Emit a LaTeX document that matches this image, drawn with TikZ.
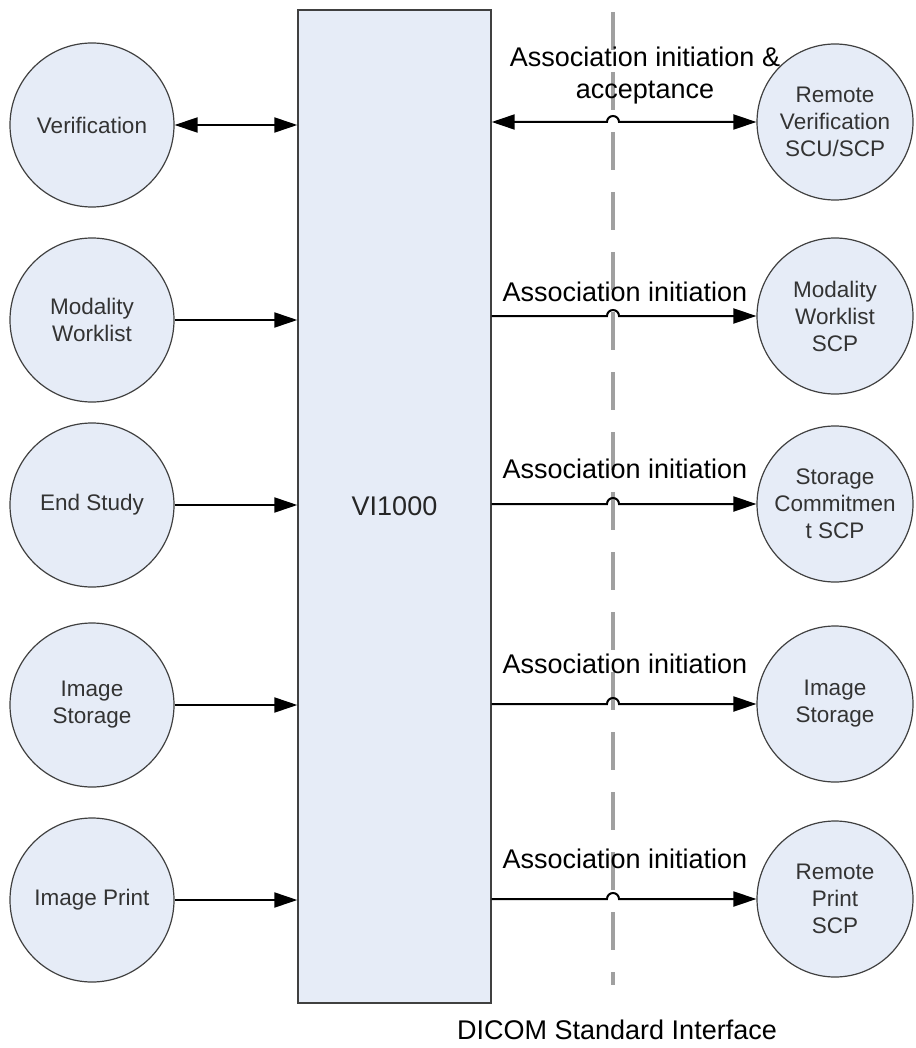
\documentclass[tikz,border=0pt]{standalone}
\usepackage{fontspec}
\setmainfont{Liberation Sans}
\usetikzlibrary{arrows.meta,calc}
\definecolor{bubble}{HTML}{E6ECF7}
\definecolor{rim}{HTML}{404040}
\definecolor{divider}{HTML}{A0A0A0}
\tikzset{
  service/.style={circle, draw=rim, line width=1.2pt, fill=bubble, minimum size=164pt, inner sep=0pt, align=center, font=\fontsize{22.5}{27}\selectfont, text=black!80},
  remote/.style={service, minimum size=156pt},
  link/.style={-{Triangle[length=23pt,width=15pt]}, line width=2pt},
  twoway/.style={{Triangle[length=23pt,width=15pt]}-{Triangle[length=23pt,width=15pt]}, line width=2pt},
  caption/.style={font=\fontsize{27}{32}\selectfont, align=center}
}
\begin{document}
\begin{tikzpicture}[x=1pt, y=-1pt]
    \useasboundingbox (0,0) rectangle (915,1048);
    % interface line
    \coordinate (dicomtop) at (613,12);
    \coordinate (dicombot) at (613,985);
    \draw[divider, line width=4pt, dash pattern=on 38pt off 22pt] (dicomtop) -- (dicombot);
    \node[caption] (dicom) at (617,1030) {DICOM Standard Interface};
    % application
    \node[draw=rim, line width=1.4pt, fill=bubble, minimum width=193pt, minimum height=993pt, font=\fontsize{27}{32}\selectfont, text=black!85] (vi) at (394.5,506.5) {VI1000};
    % local services
    \node[service] (ver) at (92,125) {Verification};
    \node[service] (mwl) at (92,320) {Modality\\Worklist};
    \node[service] (end) at (92,505) {End Study};
    \node[service] (sto) at (92,705) {Image\\Storage};
    \node[service] (prt) at (92,900) {Image Print};
    \draw[twoway] (ver) -- (ver -| vi.west);
    \draw[link] (mwl) -- (mwl -| vi.west);
    \draw[link] (end) -- (end -| vi.west);
    \draw[link] (sto) -- (sto -| vi.west);
    \draw[link] (prt) -- (prt -| vi.west);
    % remote peers
    \node[remote] (rver) at (835,122) {Remote\\Verification\\SCU/SCP};
    \node[remote] (rmwl) at (835,316) {Modality\\Worklist\\SCP};
    \node[remote] (rstc) at (835,504) {Storage\\Commitmen\\t SCP};
    \node[remote] (rsto) at (835,704) {Image\\Storage};
    \node[remote] (rprt) at (835,899) {Remote\\Print\\SCP};
    \draw[twoway] (vi.east |- rver) -- ($(dicomtop |- rver)+(-6,0)$) arc[start angle=180, end angle=0, radius=6pt] -- (rver);
    \draw[link] (vi.east |- rmwl) -- ($(dicomtop |- rmwl)+(-6,0)$) arc[start angle=180, end angle=0, radius=6pt] -- (rmwl);
    \draw[link] (vi.east |- rstc) -- ($(dicomtop |- rstc)+(-6,0)$) arc[start angle=180, end angle=0, radius=6pt] -- (rstc);
    \draw[link] (vi.east |- rsto) -- ($(dicomtop |- rsto)+(-6,0)$) arc[start angle=180, end angle=0, radius=6pt] -- (rsto);
    \draw[link] (vi.east |- rprt) -- ($(dicomtop |- rprt)+(-6,0)$) arc[start angle=180, end angle=0, radius=6pt] -- (rprt);
    % labels
    \node[caption] (lver) at (645,76) {Association initiation \&\\acceptance};
    \node[caption] (lmwl) at (625,292) {Association initiation};
    \node[caption] (lstc) at (625,469) {Association initiation};
    \node[caption] (lsto) at (625,664) {Association initiation};
    \node[caption] (lprt) at (625,859) {Association initiation};
\end{tikzpicture}
\end{document}
